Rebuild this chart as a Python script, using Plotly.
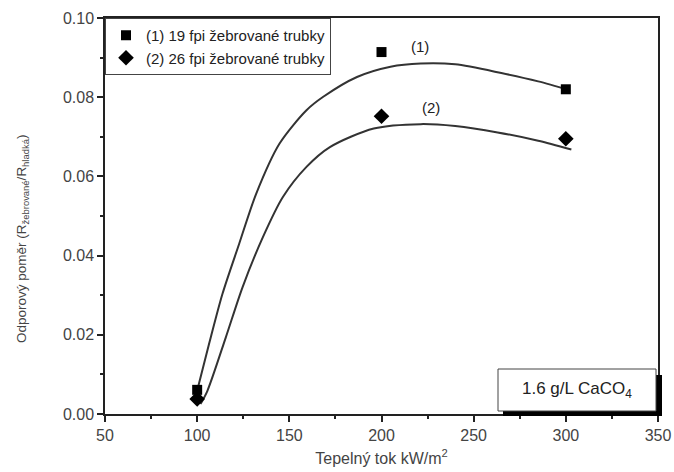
import plotly.graph_objects as go

# Measured points
heat_flux = [100, 200, 300]
ratio_19fpi = [0.0061, 0.0914, 0.0820]
ratio_26fpi = [0.0038, 0.0752, 0.0695]

# Fitted curves
fit1_x = [99.5, 106.4, 113.7, 122.8, 132, 144.7, 159.3, 168.4, 186.7, 204.9, 221.3, 240, 265, 285, 302]
fit1_y = [0.0050, 0.0176, 0.0303, 0.0430, 0.0556, 0.0683, 0.0767, 0.0801, 0.0851, 0.0877, 0.0885, 0.0883, 0.0861, 0.0840, 0.0818]
fit2_x = [101.8, 105.5, 115.5, 124.6, 135.6, 146.5, 159.3, 172, 195.8, 221.3, 240, 263, 285, 303]
fit2_y = [0.0025, 0.0058, 0.0193, 0.0320, 0.0446, 0.0548, 0.0624, 0.0674, 0.0721, 0.0732, 0.0727, 0.0711, 0.0690, 0.0668]

labels = ["(1) 19 fpi žebrované trubky", "(2) 26 fpi žebrované trubky"]
y_title = "Odporový poměr (R<sub>žebrované</sub>/R<sub>hladká</sub>)"
x_title = "Tepelný tok kW/m<sup>2</sup>"

fig = go.Figure()
fig.add_trace(go.Scatter(x=fit1_x, y=fit1_y, mode="lines",
                         line=dict(color="#333", width=2, shape="spline", smoothing=0.8),
                         showlegend=False, hoverinfo="skip"))
fig.add_trace(go.Scatter(x=fit2_x, y=fit2_y, mode="lines",
                         line=dict(color="#333", width=2, shape="spline", smoothing=0.8),
                         showlegend=False, hoverinfo="skip"))
fig.add_trace(go.Scatter(x=heat_flux, y=ratio_19fpi, mode="markers", name=labels[0],
                         marker=dict(symbol="square", size=10, color="black")))
fig.add_trace(go.Scatter(x=heat_flux, y=ratio_26fpi, mode="markers", name=labels[1],
                         marker=dict(symbol="diamond", size=12, color="black")))

font = "Liberation Sans"
axis_common = dict(showline=True, linecolor="#222", linewidth=1.5, mirror=True, ticks="outside",
                   ticklen=6, tickcolor="#222", tickwidth=1.5, showgrid=False, zeroline=False,
                   automargin=False,
                   tickfont=dict(family=font, size=16, color="#444"))

fig.update_xaxes(range=[50, 350], dtick=50, tick0=50,
                 minor=dict(dtick=25, ticks="outside", ticklen=3, tickcolor="#222"),
                 title=dict(text=x_title, font=dict(family=font, size=16, color="#444"), standoff=10),
                 **axis_common)
fig.update_yaxes(range=[0, 0.10], dtick=0.02, tickformat=".2f",
                 minor=dict(dtick=0.01, ticks="outside", ticklen=3, tickcolor="#222"),
                 **axis_common)

# Plot area on the page: x 105..658, y 18..414
def px2x(p): return (p - 105) / 553
def px2y(p): return (414 - p) / 396

# y-axis title as a rotated annotation
fig.add_annotation(xref="paper", yref="paper", x=px2x(22), y=px2y(239), xanchor="center", yanchor="middle",
                   textangle=-90, text=y_title, showarrow=False,
                   font=dict(family=font, size=13.5, color="#444"))

# "(1)" and "(2)" curve labels
fig.add_annotation(x=221, y=0.0927, text="(1)", showarrow=False, font=dict(family=font, size=15, color="#222"))
fig.add_annotation(x=227, y=0.0773, text="(2)", showarrow=False, font=dict(family=font, size=15, color="#222"))

# Box with shadow
fig.add_shape(type="rect", xref="paper", yref="paper", x0=px2x(503), x1=px2x(662), y0=px2y(416), y1=px2y(375),
              fillcolor="black", line=dict(width=0), layer="above")
fig.add_shape(type="rect", xref="paper", yref="paper", x0=px2x(498), x1=px2x(656), y0=px2y(411), y1=px2y(369),
              fillcolor="white", line=dict(color="#444", width=1), layer="above")
fig.add_annotation(xref="paper", yref="paper", x=px2x(577), y=px2y(390), xanchor="center", yanchor="middle",
                   text="1.6 g/L CaCO<sub>4</sub>", showarrow=False,
                   font=dict(family=font, size=17, color="#222"))

fig.update_layout(
    width=674, height=472,
    margin=dict(l=105, r=16, t=18, b=58, autoexpand=False),
    plot_bgcolor="white", paper_bgcolor="white",
    legend=dict(x=0.0, y=1.0, xanchor="left", yanchor="top", bgcolor="white",
                bordercolor="#444", borderwidth=1, font=dict(family=font, size=15, color="#222"),
                itemwidth=30, tracegroupgap=0),
)

fig.write_html("out.html", config={"displayModeBar": False},
               post_script="document.body.style.margin='0';document.body.style.overflow='hidden';")
